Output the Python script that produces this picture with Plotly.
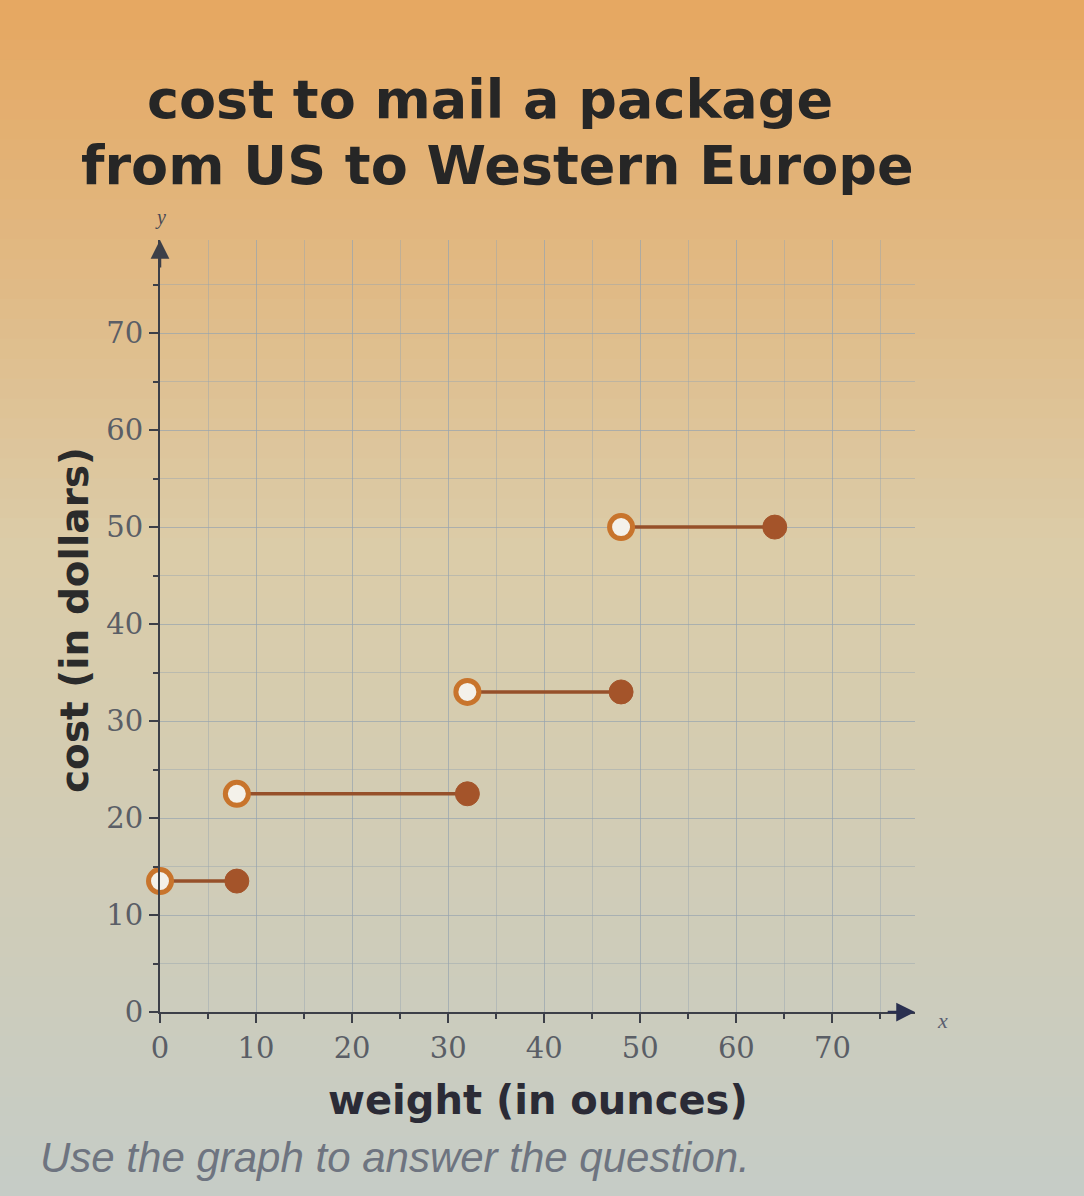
import plotly.graph_objects as go

# ---- data ----
segment_start = [0, 8, 32, 48]      # weight (oz), open endpoint
segment_end = [8, 32, 48, 64]       # weight (oz), closed endpoint
cost = [13.5, 22.5, 33, 50]         # dollars

x_ticks = [0, 10, 20, 30, 40, 50, 60, 70]
y_ticks = [0, 10, 20, 30, 40, 50, 60, 70]

title_lines = ["cost to mail a package", "from US to Western Europe"]
x_title = "weight (in ounces)"
y_title = "cost (in dollars)"
footer = "Use the graph to answer the question."

# ---- figure geometry ----
W, H = 1084, 1196
L, R, T, B = 160, 169, 240, 184
X_MAX, Y_MAX = 78.6, 79.6
pw, ph = W - L - R, H - T - B

def px_x(p):
    return (p - L) / pw

def px_y(p):
    return (H - B - p) / ph

seg_color = "#96502a"
closed_color = "#a4542a"
open_color = "#c8742c"

fig = go.Figure()

# background gradient (photo lighting: warm top, grey-blue bottom)
top = (230, 168, 98)
mid = (220, 204, 168)
bot = (198, 204, 198)
n = 60
for i in range(n):
    t = i / (n - 1)
    if t < 0.45:
        u = t / 0.45
        c = tuple(int(top[k] + (mid[k] - top[k]) * u) for k in range(3))
    else:
        u = (t - 0.45) / 0.55
        c = tuple(int(mid[k] + (bot[k] - mid[k]) * u) for k in range(3))
    fig.add_shape(type="rect", xref="paper", yref="paper",
                  x0=px_x(0), x1=px_x(W), y0=px_y(i * H / n), y1=px_y((i + 1) * H / n + 1),
                  fillcolor="rgb(%d,%d,%d)" % c, line_width=0, layer="below")

# horizontal segments
sx, sy = [], []
for a, b, c in zip(segment_start, segment_end, cost):
    sx += [a, b, None]
    sy += [c, c, None]
fig.add_trace(go.Scatter(x=sx, y=sy, mode="lines",
                         line=dict(color=seg_color, width=3.5),
                         hoverinfo="skip", showlegend=False, cliponaxis=False))

# closed endpoints
fig.add_trace(go.Scatter(x=segment_end, y=cost, mode="markers",
                         marker=dict(size=24, color=closed_color,
                                     line=dict(color=closed_color, width=1)),
                         showlegend=False, cliponaxis=False))
# open endpoints
fig.add_trace(go.Scatter(x=segment_start, y=cost, mode="markers",
                         marker=dict(size=23, color="#f4f1ea",
                                     line=dict(color=open_color, width=5)),
                         showlegend=False, cliponaxis=False))

grid_c = "rgba(150,165,175,0.45)"
axis_c = "#3c3f48"
tick_font = dict(family="DejaVu Serif, Liberation Serif, serif", size=29, color="#5a5e66")

common = dict(showgrid=True, gridcolor=grid_c, gridwidth=1,
              minor=dict(dtick=5, tick0=0, showgrid=True, gridcolor=grid_c,
                         ticks="outside", ticklen=5, tickcolor=axis_c),
              showline=True, linecolor=axis_c, linewidth=2,
              ticks="outside", ticklen=9, tickcolor=axis_c, tickwidth=2,
              tickfont=tick_font, zeroline=False, fixedrange=True)
fig.update_xaxes(range=[0, X_MAX], tickvals=x_ticks, ticktext=[str(v) for v in x_ticks], **common)
fig.update_yaxes(range=[0, Y_MAX], tickvals=y_ticks, ticktext=[str(v) for v in y_ticks], **common)

bold_font = "DejaVu Sans, Verdana, sans-serif"
annotations = [
    dict(text="<b>" + title_lines[0] + "</b>", xref="paper", yref="paper",
         x=px_x(490), y=px_y(99), xanchor="center", yanchor="middle", showarrow=False,
         font=dict(family=bold_font, size=54, color="#262626")),
    dict(text="<b>" + title_lines[1] + "</b>", xref="paper", yref="paper",
         x=px_x(497), y=px_y(165), xanchor="center", yanchor="middle", showarrow=False,
         font=dict(family=bold_font, size=54, color="#262626")),
    dict(text="<b>" + x_title + "</b>", xref="paper", yref="paper",
         x=px_x(538), y=px_y(1100), xanchor="center", yanchor="middle", showarrow=False,
         font=dict(family=bold_font, size=40, color="#2b2b36")),
    dict(text="<b>" + y_title + "</b>", xref="paper", yref="paper",
         x=px_x(74), y=px_y(620), xanchor="center", yanchor="middle", showarrow=False,
         textangle=-90, font=dict(family=bold_font, size=39, color="#2b2b2b")),
    dict(text="<i>" + footer + "</i>", xref="paper", yref="paper",
         x=px_x(38), y=px_y(1157), xanchor="left", yanchor="middle", showarrow=False,
         font=dict(family="Liberation Sans, Arial, sans-serif", size=42, color="#6e7480")),
    dict(text="<i>y</i>", xref="paper", yref="paper",
         x=px_x(160), y=px_y(218), xanchor="center", yanchor="middle", showarrow=False,
         font=dict(family="Liberation Serif, serif", size=20, color="#4a4a55")),
    dict(text="<i>x</i>", xref="paper", yref="paper",
         x=px_x(942), y=px_y(1020), xanchor="center", yanchor="middle", showarrow=False,
         font=dict(family="Liberation Serif, serif", size=22, color="#5a5e70")),
    # axis arrowheads
    dict(x=0, y=Y_MAX, xref="x", yref="y", ax=0, ay=Y_MAX - 3, axref="x", ayref="y",
         showarrow=True, arrowhead=2, arrowsize=1.5, arrowwidth=2.5, arrowcolor=axis_c, text=""),
    dict(x=X_MAX, y=0, xref="x", yref="y", ax=X_MAX - 3, ay=0, axref="x", ayref="y",
         showarrow=True, arrowhead=2, arrowsize=1.5, arrowwidth=2.5, arrowcolor="#2a3050", text=""),
]

fig.update_layout(width=W, height=H, margin=dict(l=L, r=R, t=T, b=B),
                  paper_bgcolor="#d8ccb0", plot_bgcolor="rgba(0,0,0,0)",
                  annotations=annotations, showlegend=False)

fig.write_html("out.html", config={"displayModeBar": False},
               post_script="document.body.style.margin='0';document.body.style.padding='0';")
